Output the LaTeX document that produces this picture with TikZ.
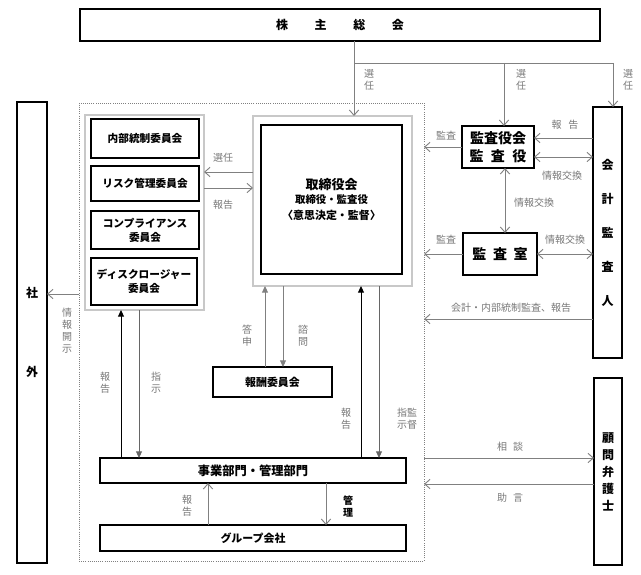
\documentclass[tikz,border=0pt]{standalone}
\usepackage{fontspec}
\newfontfamily\jp{Noto Sans CJK JP}
\usetikzlibrary{arrows.meta}
\definecolor{lgray}{RGB}{200,200,200}
\definecolor{lline}{RGB}{128,128,128}
\definecolor{ltext}{RGB}{120,120,120}
\newcommand\fz[2]{\fontsize{#1}{#2}\selectfont}
\begin{document}
\begin{tikzpicture}[x=0.75pt,y=-0.75pt,
  every node/.style={font=\jp, inner sep=0pt, outer sep=0pt},
  wh/.style 2 args={minimum width=#1*0.75pt, minimum height=#2*0.75pt},
  box/.style={draw=black, line width=1.1pt, fill=white, align=center},
  cbox/.style={draw=black, line width=1pt, fill=white, align=center, font=\jp\bfseries\fz{8pt}{10.5pt}},
  lbox/.style={draw=lgray, line width=0.8pt},
  dotbox/.style={draw=lline, densely dotted, line width=0.6pt},
  ga/.style={draw=lline, line width=0.7pt, -{Straight Barb[length=4pt,width=7pt]}},
  gd/.style={draw=lline, line width=0.7pt, {Straight Barb[length=4pt,width=7pt]}-{Straight Barb[length=4pt,width=7pt]}},
  gl/.style={draw=lline, line width=0.7pt},
  bup/.style={draw=black, line width=0.7pt, -{Triangle[length=5pt,width=4.5pt]}},
  bdn/.style={draw=black!60, line width=0.7pt, -{Triangle[length=5pt,width=4.5pt]}},
  gup/.style={draw=lline, line width=0.7pt, -{Triangle[length=5pt,width=4.5pt]}},
  lab/.style={text=ltext, align=center, font=\jp\fz{7.5pt}{9pt}},
]
\useasboundingbox (0,0) rectangle (641,574);

% outer groups
\node[dotbox, wh={345}{458}] (grp) at (251.5,332) {};
\node[box, wh={520}{32}, font=\jp\bfseries\fz{9pt}{11pt}] (kabu) at (340,25)
  {株\hspace{20pt}主\hspace{20pt}総\hspace{20pt}会};
\node[box, wh={30}{461}, font=\jp\bfseries\fz{9pt}{59.25pt}] (shagai) at (32,332.5) {社\\外};

% committees
\node[lbox, wh={119}{195}] (ccont) at (144.5,212.5) {};
\node[cbox, wh={108}{39}] (naibu) at (145,138.5) {内部統制委員会};
\node[cbox, wh={108}{35}] (risk) at (145,183.5) {リスク管理委員会};
\node[cbox, wh={108}{38}] (comp) at (145,230) {コンプライアンス\\委員会};
\node[cbox, wh={106}{47}] (disc) at (144,281.5) {ディスクロージャー\\委員会};

% board
\node[lbox, wh={159}{170}] (bcont) at (332.5,201) {};
\node[box, wh={141}{149}, line width=1.2pt] (board) at (331.5,199.5)
  {{\bfseries\fz{9.75pt}{11pt}取締役会}\\[-1pt]
   {\bfseries\fz{7.8pt}{9.5pt}取締役・監査役}\\
   {\bfseries\fz{8.2pt}{9.5pt}〈意思決定・監督〉}};

\node[cbox, wh={119}{30}, font=\jp\bfseries\fz{8.2pt}{10pt}] (housyu) at (272.5,382) {報酬委員会};
\node[cbox, wh={306}{25}, font=\jp\bfseries\fz{9.2pt}{11pt}] (jigyo) at (253,470.5) {事業部門・管理部門};
\node[cbox, wh={306}{26}, line width=0.9pt, font=\jp\bfseries\fz{8.2pt}{10pt}] (group) at (253,538) {グループ会社};

% auditors
\node[box, wh={72}{42}, font=\jp\bfseries\fz{10.5pt}{13.5pt}] (kyk) at (498,147)
  {監査役会\\監\hspace{5.5pt}査\hspace{5.5pt}役};
\node[box, wh={74}{42}, font=\jp\bfseries\fz{10.5pt}{13pt}] (kst) at (500,254)
  {監\hspace{5pt}査\hspace{5pt}室};
\node[box, wh={29}{251}, font=\jp\bfseries\fz{9pt}{25.5pt}] (kaikei) at (607.5,232.5)
  {会\\計\\監\\査\\人};
\node[box, wh={28}{187}, font=\jp\bfseries\fz{9pt}{12.75pt}] (komon) at (608,471.5)
  {顧\\問\\弁\\護\\士};

% helper coordinates
\coordinate (j1) at (354,63);
\coordinate (j2) at (504,63);
\coordinate (j3) at (613,63);
\coordinate (ySen) at (0,172);
\coordinate (yHok) at (0,188);
\coordinate (ySha) at (0,294);
\coordinate (xa) at (121,0);
\coordinate (xb) at (139,0);
\coordinate (xc) at (361,0);
\coordinate (xd) at (379,0);
\coordinate (xe) at (265,0);
\coordinate (xf) at (283,0);
\coordinate (yR) at (0,138);
\coordinate (yX) at (0,157);
\coordinate (xV) at (505,0);
\coordinate (yK) at (0,319);
\coordinate (yS) at (0,458);
\coordinate (yJ) at (0,484);
\coordinate (xg) at (208,0);
\coordinate (xh) at (326,0);

% shareholders
\draw[ga] (kabu.south -| j1) -- (bcont.north -| j1);
\draw[gl] (j1) -- (j3);
\draw[ga] (j2) -- (kyk.north -| j2);
\draw[ga] (j3) -- (kaikei.north -| j3);
\node[lab] (l1) at (369,80) {選\\任};
\node[lab] (l2) at (521,80) {選\\任};
\node[lab] (l3) at (628,80) {選\\任};

% board <-> committees
\draw[ga] (bcont.west |- ySen) -- (ccont.east |- ySen);
\draw[ga] (ccont.east |- yHok) -- (bcont.west |- yHok);
\node[lab] (l4) at (223,158) {選任};
\node[lab] (l5) at (223,205) {報告};

% disclosure
\draw[ga] (grp.west |- ySha) -- (shagai.east |- ySha);
\node[lab] (l6) at (67,331) {情\\報\\開\\示};

% committees <-> departments
\draw[bup] (jigyo.north -| xa) -- (ccont.south -| xa);
\draw[bdn] (ccont.south -| xb) -- (jigyo.north -| xb);
\node[lab] (l7) at (105,383) {報\\告};
\node[lab] (l8) at (156,383) {指\\示};

% board <-> departments
\draw[bup] (jigyo.north -| xc) -- (bcont.south -| xc);
\draw[bdn] (bcont.south -| xd) -- (jigyo.north -| xd);
\node[lab] (l9) at (346,419) {報\\告};
\node[lab] (l10) at (407,419) {指監\\示督};

% remuneration
\draw[gup] (housyu.north -| xe) -- (bcont.south -| xe);
\draw[gup] (bcont.south -| xf) -- (housyu.north -| xf);
\node[lab] (l11) at (247,336) {答\\申};
\node[lab] (l12) at (303,336) {諮\\問};

% auditors
\draw[ga] (kyk.west) -- (grp.east |- kyk.west);
\node[lab] (l13) at (446,136) {監査};
\draw[ga] (kaikei.west |- yR) -- (kyk.east |- yR);
\node[lab] (l14) at (565,125) {報\hspace{5pt}告};
\draw[gd] (kyk.east |- yX) -- (kaikei.west |- yX);
\node[lab] (l15) at (562,176) {情報交換};
\draw[gd] (kyk.south -| xV) -- (kst.north -| xV);
\node[lab] (l16) at (534,203) {情報交換};
\draw[ga] (kst.west) -- (grp.east |- kst.west);
\node[lab] (l17) at (446,240) {監査};
\draw[gd] (kst.east) -- (kaikei.west |- kst.east);
\node[lab] (l18) at (565,240) {情報交換};
\draw[ga] (kaikei.west |- yK) -- (grp.east |- yK);
\node[lab] (l19) at (511,308) {会計・内部統制監査、報告};

% lawyers
\draw[ga] (grp.east |- yS) -- (komon.west |- yS);
\node[lab] (l20) at (510,447) {相\hspace{4.5pt}談};
\draw[ga] (komon.west |- yJ) -- (grp.east |- yJ);
\node[lab] (l21) at (510,498) {助\hspace{4.5pt}言};

% group companies
\draw[ga] (group.north -| xg) -- (jigyo.south -| xg);
\draw[ga] (jigyo.south -| xh) -- (group.north -| xh);
\node[lab] (l22) at (187,506) {報\\告};
\node[lab, text=black, font=\jp\bfseries\fz{7.5pt}{9pt}] (l23) at (348,506) {管\\理};
\end{tikzpicture}
\end{document}
